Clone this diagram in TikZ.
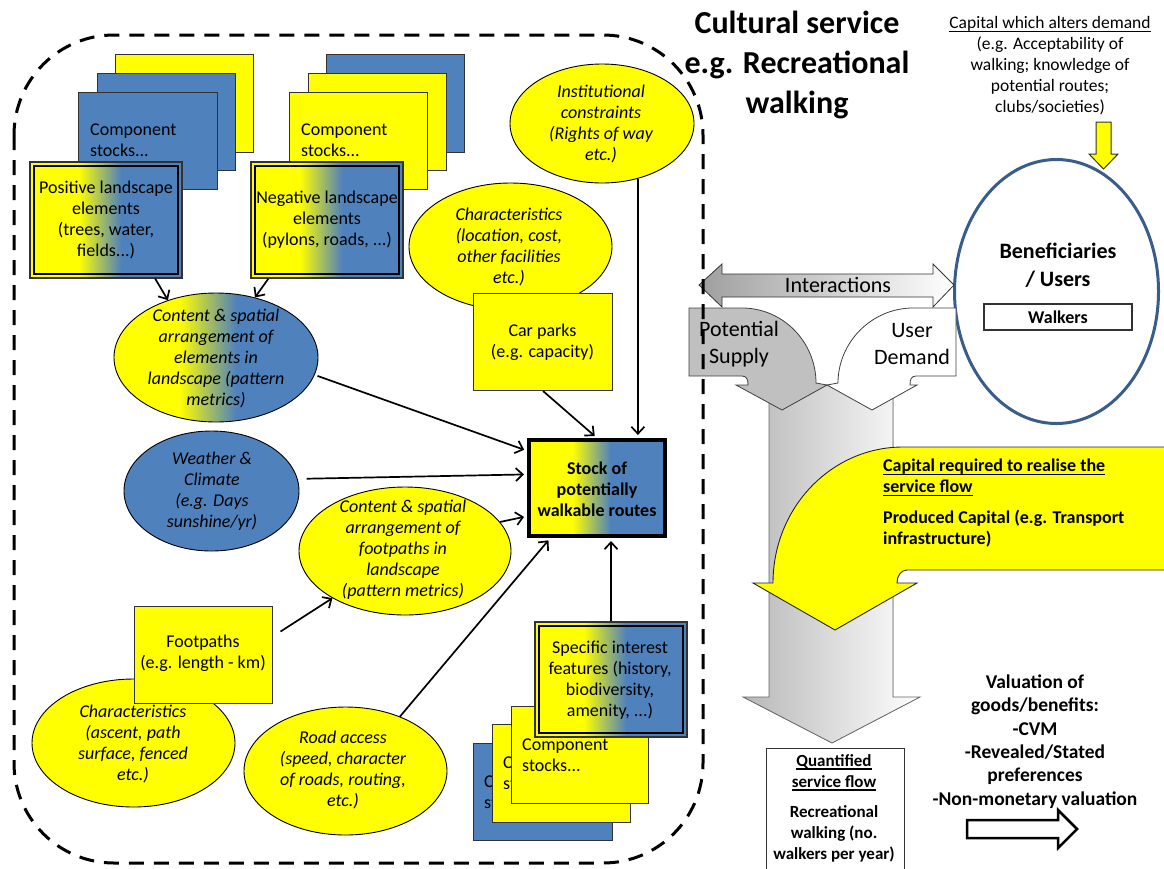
\documentclass[tikz,border=0pt]{standalone}
\usepackage{fontspec}
\setmainfont{Carlito}
\usetikzlibrary{shapes.geometric,arrows.meta}
\definecolor{myY}{RGB}{255,255,0}
\definecolor{myB}{RGB}{79,129,189}
\definecolor{myEdge}{RGB}{50,50,50}
\definecolor{benef}{RGB}{56,93,138}
\definecolor{psgray}{RGB}{192,192,192}
\pgfdeclarehorizontalshading{yb}{100bp}{color(0bp)=(myY); color(41bp)=(myY); color(55bp)=(myB); color(100bp)=(myB)}
\newcommand\myul[1]{\setbox0\hbox{#1}\rlap{\rule[-3.5pt]{\wd0}{1.3pt}}\box0}
\begin{document}
\begin{tikzpicture}[x=1pt,y=-1pt,
  ybox/.style={draw=myEdge,line width=1pt,fill=myY,inner sep=0pt,anchor=north west},
  bbox/.style={draw=myEdge,line width=1pt,fill=myB,inner sep=0pt,anchor=north west},
  gbox/.style={draw=myEdge,line width=1.2pt,shade,shading=yb,inner sep=0pt},
  ell/.style={ellipse,draw=black,line width=0.9pt,inner sep=0pt},
  tx/.style={font=\fontsize{18pt}{21pt}\selectfont,align=center,inner sep=0pt},
  itx/.style={font=\fontsize{18pt}{21pt}\selectfont\itshape,align=center,inner sep=0pt},
  btx/.style={font=\fontsize{18pt}{21pt}\selectfont\bfseries,align=center,inner sep=0pt},
  stx/.style={font=\fontsize{18pt}{21pt}\selectfont,align=left,anchor=west,inner sep=0pt},
  arr/.style={line width=1.7pt,-{Straight Barb[length=7pt,width=13pt]}},
  inner/.style={line width=2.4pt}]
\useasboundingbox (0,0) rectangle (1164,868);

% ---------- top-left stack ----------
\node[ybox,minimum width=138pt,minimum height=98pt] (tla) at (115,54) {};
\node[bbox,minimum width=138pt,minimum height=97pt] (tlb) at (97,73) {};
\node[bbox,minimum width=139pt,minimum height=97pt] (tlc) at (78,92) {};
\node[stx] (tlct) at (90,140) {Component\\stocks...};
\node[gbox,minimum width=152pt,minimum height=116pt] (pos) at (106,220) {};
\draw[inner] ([shift={(4.5pt,-4.5pt)}]pos.north west) rectangle ([shift={(-4.5pt,4.5pt)}]pos.south east);
\node[tx] (post) at (106,220) {Positive landscape\\elements\\(trees, water,\\fields...)};

% ---------- top-middle stack ----------
\node[bbox,minimum width=138pt,minimum height=98pt] (tra) at (326,54) {};
\node[ybox,minimum width=138pt,minimum height=97pt] (trb) at (308,73) {};
\node[ybox,minimum width=138pt,minimum height=97pt] (trc) at (289,92) {};
\node[stx] (trct) at (301,140) {Component\\stocks...};
\node[gbox,minimum width=152pt,minimum height=116pt] (neg) at (327,220) {};
\draw[inner] ([shift={(4.5pt,-4.5pt)}]neg.north west) rectangle ([shift={(-4.5pt,4.5pt)}]neg.south east);
\node[tx] (negt) at (327,220) {Negative landscape\\elements\\(pylons, roads, ...)};

% ---------- ellipses and boxes ----------
\node[ell,shade,shading=yb,minimum width=204pt,minimum height=129pt] (e1) at (216,357.5) {};
\node[itx] (e1t) at (216,358) {Content \& spatial\\arrangement of\\elements in\\landscape (pattern\\metrics)};

\node[ell,fill=myB,minimum width=175pt,minimum height=120pt] (wea) at (211.5,491) {};
\node[itx] (weat) at (212,491) {Weather \&\\Climate\\(e.g. Days\\sunshine/yr)};

\node[ell,fill=myY,minimum width=212pt,minimum height=128pt] (fte) at (405,551) {};
\node[itx] (ftet) at (403,550) {Content \& spatial\\arrangement of\\footpaths in\\landscape\\(pattern metrics)};

\node[ell,fill=myY,minimum width=203pt,minimum height=128pt] (cha) at (133.5,743) {};
\node[itx] (chat) at (133,744) {Characteristics\\(ascent, path\\surface, fenced\\etc.)};

\node[ybox,minimum width=138pt,minimum height=97pt] (fpb) at (134,606) {};
\node[tx] (fpbt) at (203,653.5) {Footpaths\\(e.g. length - km)};

\node[ell,fill=myY,minimum width=203pt,minimum height=128pt] (road) at (345.5,771) {};
\node[itx] (roadt) at (343,770) {Road access\\(speed, character\\of roads, routing,\\etc.)};

\node[ell,fill=myY,minimum width=184pt,minimum height=119pt] (inst) at (602,123.5) {};
\node[itx] (instt) at (601,124) {Institutional\\constraints\\(Rights of way\\etc.)};

\node[ell,fill=myY,minimum width=203pt,minimum height=127pt] (chl) at (510.5,246.5) {};
\node[itx] (chlt) at (509,247) {Characteristics\\(location, cost,\\other facilities\\etc.)};

\node[ybox,minimum width=139pt,minimum height=97pt] (car) at (473,293) {};
\node[tx] (cart) at (542.5,342) {Car parks\\(e.g. capacity)};

% ---------- stock ----------
\node[draw=black,line width=4pt,shade,shading=yb,minimum width=136pt,minimum height=96pt,inner sep=0pt] (stock) at (597,488) {};
\node[btx] (stockt) at (597,489) {Stock of\\potentially\\walkable routes};

% ---------- bottom stack ----------
\node[bbox,minimum width=139pt,minimum height=97pt] (bsa) at (473,743) {};
\begin{scope}
\clip (473,743) rectangle (492,840);
\node[stx] (bsat) at (484,792) {Component\\stocks...};
\end{scope}
\node[ybox,minimum width=138pt,minimum height=98pt] (bsb) at (492,724) {};
\begin{scope}
\clip (492,724) rectangle (511,822);
\node[stx] (bsbt) at (503,773) {Component\\stocks...};
\end{scope}
\node[ybox,minimum width=137pt,minimum height=97pt] (bsc) at (511,706) {};
\node[stx] (bsct) at (522,755) {Component\\stocks...};
\node[gbox,minimum width=152pt,minimum height=115pt] (spec) at (611,679.5) {};
\draw[inner] ([shift={(4.5pt,-4.5pt)}]spec.north west) rectangle ([shift={(-4.5pt,4.5pt)}]spec.south east);
\node[tx] (spect) at (610,680) {Specific interest\\features (history,\\biodiversity,\\amenity, ...)};

% ---------- connectors ----------
\draw[arr] (pos.-50) -- (e1.130);
\draw[arr] (neg.-135) -- (e1.57);
\draw[arr,shorten <=3pt,shorten >=3pt] (e1.-10) -- (stock.152);
\draw[arr,shorten <=9pt,shorten >=3pt] (wea.8) -- (stock.169);
\draw[arr,shorten >=3pt] (fte.17) -- (stock.202);
\draw[arr,shorten >=3pt] (road.45) -- (stock.227);
\draw[arr,shorten >=3pt] (spec.north) -- (spec.north |- stock.south);
\draw[arr,shorten >=3pt] (car.south) -- (stock.north);
\draw[arr,shorten >=3pt] (inst.-57) -- (inst.-57 |- stock.north);
\draw[arr,shorten <=9pt] (fpb.15) -- (fte.213);

% ---------- right side ----------
\node[font=\fontsize{32pt}{40pt}\selectfont\bfseries,align=center,inner sep=0pt] (title) at (797,65) {Cultural service\\e.g. Recreational\\walking};

\node[font=\fontsize{17.5pt}{21pt}\selectfont,align=center,inner sep=0pt] (cad) at (1050,66) {\myul{Capital which alters demand}\\(e.g. Acceptability of\\walking; knowledge of\\potential routes;\\clubs/societies)};
\draw[draw=myEdge,fill=myY,line width=1pt] (1096,122) -- (1111,122) -- (1111,154) -- (1118,154) -- (1103.5,169) -- (1089,154) -- (1096,154) -- cycle;

\node[ellipse,draw=benef,line width=3pt,minimum width=204pt,minimum height=264pt,inner sep=0pt] (ben) at (1056.5,291.5) {};
\node[font=\fontsize{22pt}{28pt}\selectfont\bfseries,align=center,inner sep=0pt] (bent) at (1058,265) {Beneficiaries\\/ Users};
\node[draw=myEdge,fill=white,line width=1.2pt,minimum width=148pt,minimum height=26pt,inner sep=0pt,font=\fontsize{18pt}{21pt}\selectfont\bfseries] (walk) at (1058,317) {Walkers};

% big grey arrow
\fill[left color=black!28,right color=white] (769,385) -- (769,697) -- (743,697) -- (832,743) -- (920,697) -- (893,697) -- (893,385) -- cycle;
\draw[draw=black!60,line width=0.8pt] (769,390) -- (769,697) -- (743,697) -- (832,743) -- (920,697) -- (893,697) -- (893,390);

% interactions
\draw[draw=black!80,line width=0.8pt,left color=black!38,right color=white] (699,285) -- (722,264) -- (722,274) -- (933,274) -- (933,264) -- (954,285) -- (933,307) -- (933,297) -- (722,297) -- (722,307) -- cycle;
\node[font=\fontsize{22pt}{27pt}\selectfont,inner sep=0pt] (int) at (838,285) {Interactions};

% potential supply / user demand
\draw[draw=black!75,line width=0.8pt,fill=psgray] (689,308) -- (742,308) .. controls (783,308) and (816,342) .. (816,383) -- (827,385) -- (782,410) -- (736,385) -- (748,385) .. controls (748,380) and (747,376) .. (742,376) -- (689,376) -- cycle;
\draw[draw=black!75,line width=0.8pt,fill=white] (956,308) -- (913,308) .. controls (872,308) and (838,342) .. (838,383) -- (827,385) -- (872,410) -- (917,385) -- (910,385) .. controls (910,380) and (911,376) .. (916,376) -- (956,376) -- cycle;
\node[font=\fontsize{22pt}{27pt}\selectfont,align=center,inner sep=0pt] (pst) at (739,344.5) {Potential\\Supply};
\node[font=\fontsize{22pt}{27pt}\selectfont,align=center,inner sep=0pt] (udt) at (912,344.5) {User\\Demand};

% yellow capital arrow
\draw[draw=black!85,line width=0.9pt,fill=myY] (1170,447) -- (903,447) .. controls (831,447) and (773,508) .. (773,583) -- (753,583) -- (835,630) -- (917,583) -- (897,583) .. controls (897,576) and (901,570) .. (907,570) -- (1170,570) -- cycle;
\node[font=\fontsize{18pt}{21pt}\selectfont\bfseries,align=left,anchor=west,inner sep=0pt] (crt) at (883,503.5) {\myul{Capital required to realise the}\\\myul{service flow}\\[10pt]Produced Capital (e.g. Transport\\infrastructure)};

% quantified service flow
\node[draw=myEdge,fill=white,line width=1pt,minimum width=138pt,minimum height=124pt,anchor=north west,inner sep=0pt] (qbox) at (766,748) {};
\node[font=\fontsize{17pt}{21pt}\selectfont\bfseries,align=center,inner sep=0pt] (qt) at (834,808) {\myul{Quantified}\\\myul{service flow}\\[9pt]Recreational\\walking (no.\\walkers per year)};

% valuation
\node[font=\fontsize{19.5pt}{23.4pt}\selectfont\bfseries,align=center,inner sep=0pt] (val) at (1035,741.5) {Valuation of\\goods/benefits:\\-CVM\\-Revealed/Stated\\preferences\\-Non-monetary valuation};
\draw[line width=2.5pt,fill=white] (967,820) -- (1058,820) -- (1058,810) -- (1077,829) -- (1058,848) -- (1058,838) -- (967,838) -- cycle;

% dashed boundary
\draw[line width=3pt,dash pattern=on 15pt off 10pt,rounded corners=100pt] (14,35) rectangle (703,863);
\end{tikzpicture}
\end{document}
